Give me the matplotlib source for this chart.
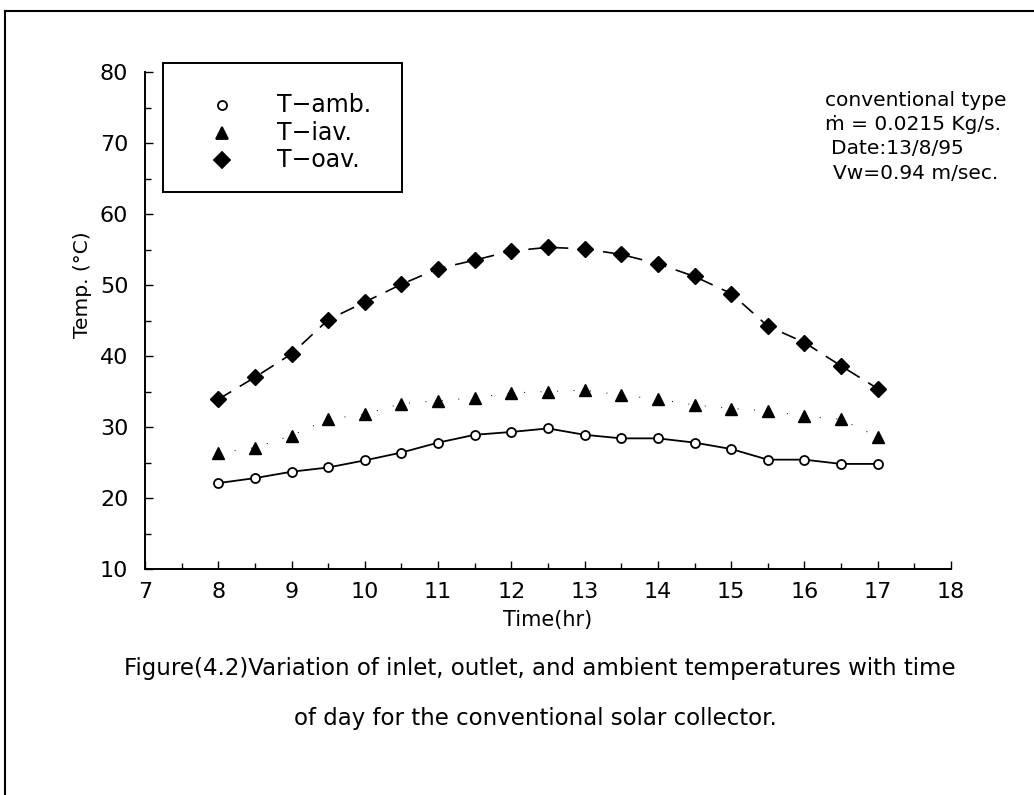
import matplotlib
matplotlib.use("Agg")
import matplotlib.pyplot as plt
from matplotlib.lines import Line2D
from matplotlib.patches import Rectangle
from matplotlib.ticker import MultipleLocator

# time of day (hr) and measured temperatures (oC)
hours = [8, 8.5, 9, 9.5, 10, 10.5, 11, 11.5, 12, 12.5,
         13, 13.5, 14, 14.5, 15, 15.5, 16, 16.5, 17]
t_amb = [22.1, 22.8, 23.7, 24.3, 25.3, 26.4, 27.8, 28.9, 29.3, 29.8,
         28.9, 28.4, 28.4, 27.8, 26.9, 25.4, 25.4, 24.8, 24.8]
t_iav = [26.3, 27.1, 28.8, 31.1, 31.8, 33.3, 33.7, 34.1, 34.8, 35.0,
         35.2, 34.5, 33.9, 33.1, 32.6, 32.3, 31.5, 31.1, 28.6]
t_oav = [33.9, 37.0, 40.3, 45.1, 47.6, 50.1, 52.3, 53.5, 54.8, 55.3,
         55.1, 54.3, 53.0, 51.2, 48.8, 44.2, 41.9, 38.6, 35.4]

legend_labels = ["T\u2212amb.", "T\u2212iav.", "T\u2212oav."]
info_lines = ["conventional type", "\u1e41 = 0.0215 Kg/s.", "Date:13/8/95", "Vw=0.94 m/sec."]
caption = ["Figure(4.2)Variation of inlet, outlet, and ambient temperatures with time",
           "of day for the conventional solar collector."]

W, H = 1034, 795
fig = plt.figure(figsize=(W / 100, H / 100), dpi=100)
fig.patch.set_facecolor("white")

def px(x, y):
    # pixel position (from top-left) -> figure fraction
    return x / W, 1 - y / H

ax = fig.add_axes([145 / W, 1 - 569 / H, (951 - 145) / W, (569 - 72) / H])

ax.plot(hours, t_amb, color="black", lw=1.3, marker="o", ms=6.5,
        mfc="white", mec="black", mew=1.3)
ax.plot(hours, t_iav, color="black", lw=0.7, ls=(0, (1, 16)), marker="^",
        ms=8, mfc="black", mec="black")
ax.plot(hours, t_oav, color="black", lw=1.2, ls=(0, (9, 6)), marker="D",
        ms=8, mfc="black", mec="black")

ax.set_xlim(7, 18)
ax.set_ylim(10, 80)
ax.xaxis.set_major_locator(MultipleLocator(1))
ax.xaxis.set_minor_locator(MultipleLocator(0.5))
ax.yaxis.set_major_locator(MultipleLocator(10))
ax.yaxis.set_minor_locator(MultipleLocator(5))
for s in ["top", "right"]:
    ax.spines[s].set_visible(False)
for s in ["left", "bottom"]:
    ax.spines[s].set_linewidth(1.4)
ax.tick_params(which="both", direction="in", width=1.0, colors="black")
ax.tick_params(which="major", length=6)
ax.tick_params(which="minor", length=4)
ax.tick_params(axis="x", labelsize=16, pad=9)
ax.tick_params(axis="y", labelsize=16, pad=12)

fig.text(*px(548, 620), "Time(hr)", fontsize=15, ha="center", va="center")
fig.text(*px(82, 285), "Temp. (\u00b0C)", fontsize=14.5, rotation=90,
         ha="center", va="center")

# legend box with marker-only keys
fig.add_artist(Rectangle(px(163, 192), (402 - 163) / W, (192 - 63) / H,
                         transform=fig.transFigure, fill=False,
                         edgecolor="black", lw=1.4))
keys = [dict(marker="o", mfc="white", ms=6.5), dict(marker="^", mfc="black", ms=8),
        dict(marker="D", mfc="black", ms=8)]
for i, (lab, k) in enumerate(zip(legend_labels, keys)):
    y = 105 + i * 27.5
    fig.add_artist(Line2D([222 / W], [1 - y / H], transform=fig.transFigure,
                          ls="none", mec="black", mew=1.3, **k))
    fig.text(*px(277, y), lab, fontsize=17, ha="left", va="center")

for i, line in enumerate(info_lines):
    x0 = [825, 825, 831, 833][i]
    fig.text(*px(x0, 100 + i * 24.5), line, fontsize=14.5, ha="left", va="center")

fig.text(*px(540, 668), caption[0], fontsize=16.5, ha="center", va="center")
fig.text(*px(535, 718), caption[1], fontsize=16.5, ha="center", va="center")

# page frame (top and left edges)
fig.add_artist(Line2D([5 / W, 1], [1 - 11 / H, 1 - 11 / H],
                      transform=fig.transFigure, color="black", lw=1.5))
fig.add_artist(Line2D([5 / W, 5 / W], [1 - 11 / H, 0],
                      transform=fig.transFigure, color="black", lw=1.5))

fig.savefig("out.png", dpi=100)
